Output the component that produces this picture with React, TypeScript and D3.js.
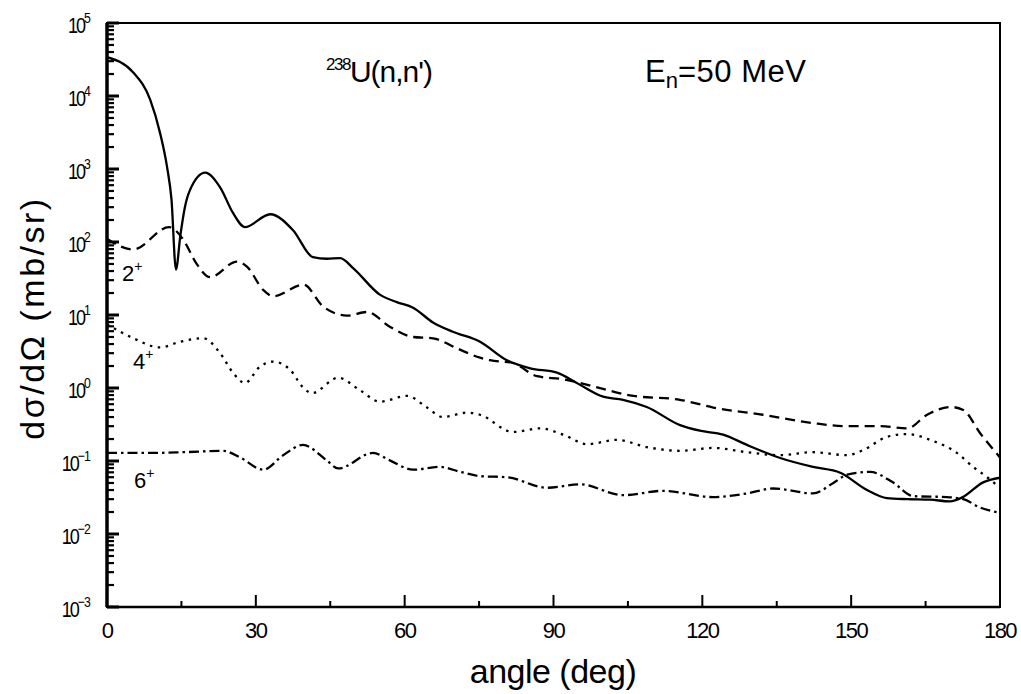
import React from "react";
import * as d3 from "d3";

// angles (deg) and cross sections (mb/sr)
const gsAngle = [0, 5.3, 8.7, 10.7, 12.1, 13.0, 13.9, 14.8, 15.7, 16.7, 19.8, 22.8, 25.4, 27.8, 32.9, 37.5, 41.5, 44.3, 47, 49.6, 55, 58.4, 61.7, 65.7, 69.7, 75.2, 80.6, 85.3, 90.7, 94.7, 100, 104, 108.8, 115.5, 119.5, 124.2, 129, 135.7, 142.3, 147.8, 153.2, 157.2, 161.3, 165.9, 169.9, 172.5, 176.6, 180];
const gsValue = [34000, 21000, 8900, 3100, 1070, 380, 42, 125, 300, 510, 890, 560, 250, 160, 240, 145, 62, 59, 60, 44, 19, 15, 12.6, 7.9, 5.9, 4.3, 2.4, 1.86, 1.62, 1.17, 0.76, 0.69, 0.55, 0.31, 0.26, 0.23, 0.166, 0.11, 0.083, 0.069, 0.040, 0.031, 0.030, 0.0295, 0.028, 0.032, 0.051, 0.059];

const s2Angle = [0, 5.3, 12.5, 15.4, 18, 20.8, 26.2, 28.2, 31.5, 33.5, 39.6, 43.6, 48.4, 52.4, 57, 61.7, 65.7, 70.5, 75.2, 77.2, 81.8, 86.7, 91.9, 98.8, 105.4, 115.5, 122.2, 132.2, 142.3, 149.2, 155.8, 161.3, 165.3, 170, 172.6, 176, 180];
const s2Value = [110, 79, 160, 107, 51, 33, 54, 46, 22, 18, 26, 13, 9.8, 11, 6.9, 5.0, 4.8, 3.5, 2.6, 2.4, 2.2, 1.45, 1.32, 1.02, 0.79, 0.69, 0.54, 0.43, 0.33, 0.30, 0.30, 0.28, 0.43, 0.55, 0.50, 0.24, 0.112];

const s4Angle = [0, 5.3, 10.7, 14.7, 19.4, 22.8, 25.4, 27.8, 30.8, 33.5, 36.9, 39.5, 41.3, 46.6, 51, 55, 60.5, 64.5, 67.7, 72.6, 75.2, 81.8, 87.3, 91.9, 96.8, 102.8, 108.8, 115.5, 122.2, 129, 135.7, 142.3, 149.2, 152.4, 157.2, 161.3, 165.9, 171.3, 174.6, 177.4, 180];
const s4Value = [7.5, 4.8, 3.6, 4.3, 4.8, 3.0, 1.62, 1.17, 1.95, 2.3, 1.78, 1.02, 0.85, 1.38, 0.93, 0.65, 0.78, 0.54, 0.40, 0.46, 0.43, 0.25, 0.28, 0.23, 0.17, 0.195, 0.155, 0.138, 0.151, 0.132, 0.120, 0.132, 0.120, 0.141, 0.214, 0.234, 0.195, 0.129, 0.083, 0.060, 0.043];

const s6Angle = [0, 8.7, 15.4, 23.4, 26.8, 31.5, 35.5, 39.5, 44.3, 46.6, 53.6, 57, 61.7, 67.1, 71.2, 75.2, 80.6, 88.7, 95.3, 104, 112, 122.2, 129, 134.3, 142.3, 146.4, 149.2, 153.8, 158.4, 162.5, 169.3, 172.6, 176, 180];
const s6Value = [0.129, 0.129, 0.132, 0.138, 0.112, 0.076, 0.120, 0.166, 0.102, 0.079, 0.129, 0.102, 0.076, 0.083, 0.071, 0.062, 0.060, 0.043, 0.048, 0.034, 0.039, 0.032, 0.036, 0.042, 0.036, 0.050, 0.065, 0.071, 0.051, 0.033, 0.032, 0.030, 0.023, 0.0195];

const xTicks = [0, 30, 60, 90, 120, 150, 180];
const xMinor = [15, 45, 75, 105, 135, 165];
const yExps = [5, 4, 3, 2, 1, 0, -1, -2, -3];

const FONT = "'Liberation Sans', Arial, Helvetica, sans-serif";

export default function App() {
  const W = 1021, H = 694;
  const left = 107, right = 1000, top = 23, bottom = 607;
  const x = d3.scaleLinear().domain([0, 180]).range([left, right]);
  const y = d3.scaleLog().domain([1e-3, 1e5]).range([bottom, top]);

  const line = d3
    .line<[number, number]>()
    .x((d) => x(d[0]))
    .y((d) => y(d[1]))
    .curve(d3.curveMonotoneX);

  const mk = (a: number[], v: number[]) => a.map((ai, i) => [ai, v[i]] as [number, number]);

  const series = [
    { d: mk(gsAngle, gsValue), dash: "none" },
    { d: mk(s2Angle, s2Value), dash: "10,6" },
    { d: mk(s4Angle, s4Value), dash: "2.5,5.5" },
    { d: mk(s6Angle, s6Value), dash: "10,4,2.5,4" },
  ];

  const minorY: number[] = [];
  for (let e = -3; e < 5; e++) {
    for (let m = 2; m <= 9; m++) minorY.push(m * Math.pow(10, e));
  }

  return (
    <svg width={W} height={H} style={{ position: "absolute", left: 0, top: 0, background: "#fff" }}>
      <rect x={0} y={0} width={W} height={H} fill="#fff" />
      <defs>
        <clipPath id="plot">
          <rect x={left} y={top} width={right - left} height={bottom - top} />
        </clipPath>
      </defs>
      {/* frame */}
      <rect x={left} y={top} width={right - left} height={bottom - top} fill="none" stroke="#000" strokeWidth={2} />
      <line x1={left} x2={left} y1={top} y2={bottom} stroke="#000" strokeWidth={3.5} />
      <line x1={left} x2={right} y1={bottom} y2={bottom} stroke="#000" strokeWidth={2.5} />
      {/* y ticks */}
      {yExps.map((e) => (
        <line key={"ym" + e} x1={left} x2={left + 12} y1={y(Math.pow(10, e))} y2={y(Math.pow(10, e))} stroke="#000" strokeWidth={3} />
      ))}
      {minorY.map((v, i) => (
        <line key={"yn" + i} x1={left} x2={left + 7} y1={y(v)} y2={y(v)} stroke="#000" strokeWidth={2.2} />
      ))}
      {/* x ticks */}
      {xTicks.map((t) => (
        <line key={"xm" + t} x1={x(t)} x2={x(t)} y1={bottom} y2={bottom - 12} stroke="#000" strokeWidth={2} />
      ))}
      {xMinor.map((t) => (
        <line key={"xn" + t} x1={x(t)} x2={x(t)} y1={bottom} y2={bottom - 6} stroke="#000" strokeWidth={2} />
      ))}
      {/* curves */}
      <g clipPath="url(#plot)">
        {series.map((s, i) => (
          <path key={i} d={line(s.d) || ""} fill="none" stroke="#000" strokeWidth={2.3} strokeDasharray={s.dash} />
        ))}
      </g>
      {/* y tick labels */}
      {yExps.map((e) => (
        <text
          key={"yl" + e}
          transform={`translate(90, ${y(Math.pow(10, e)) + 10}) scale(0.82, 1)`}
          textAnchor="end"
          fontFamily={FONT}
          fontSize={22}
          fill="#000"
        >
          <tspan letterSpacing={-2.5}>10</tspan>
          <tspan dy={-10} fontSize={15} letterSpacing={-1}>{e < 0 ? "\u2212" + -e : String(e)}</tspan>
        </text>
      ))}
      {/* x tick labels */}
      {xTicks.map((t) => (
        <text key={"xl" + t} x={x(t)} y={bottom + 31} textAnchor="middle" fontFamily={FONT} fontSize={22} letterSpacing={-1.5} fill="#000">
          {t}
        </text>
      ))}
      {/* axis titles */}
      <text x={553} y={683} textAnchor="middle" fontFamily={FONT} fontSize={34} letterSpacing={-0.5} fill="#000">
        angle (deg)
      </text>
      <text transform={`translate(44, 318) rotate(-90)`} textAnchor="middle" fontFamily={FONT} fontSize={34} letterSpacing={2.5} fill="#000">
        dσ/dΩ (mb/sr)
      </text>
      {/* annotations */}
      <text x={326} y={82} fontFamily={FONT} fontSize={30} fill="#000">
        <tspan fontSize={17} dy={-12} letterSpacing={-1.5}>238</tspan>
        <tspan dy={12} letterSpacing={-1}>U(n,n')</tspan>
      </text>
      <text x={645} y={82} fontFamily={FONT} fontSize={31} fill="#000">
        <tspan>E</tspan>
        <tspan fontSize={22} dy={6}>n</tspan>
        <tspan dy={-6} letterSpacing={0.5}>=50 MeV</tspan>
      </text>
      <text x={122} y={281} fontFamily={FONT} fontSize={22} fill="#000">
        2<tspan fontSize={14} dy={-10}>+</tspan>
      </text>
      <text x={133} y={369} fontFamily={FONT} fontSize={22} fill="#000">
        4<tspan fontSize={14} dy={-10}>+</tspan>
      </text>
      <text x={134} y={488} fontFamily={FONT} fontSize={22} fill="#000">
        6<tspan fontSize={14} dy={-10}>+</tspan>
      </text>
    </svg>
  );
}
